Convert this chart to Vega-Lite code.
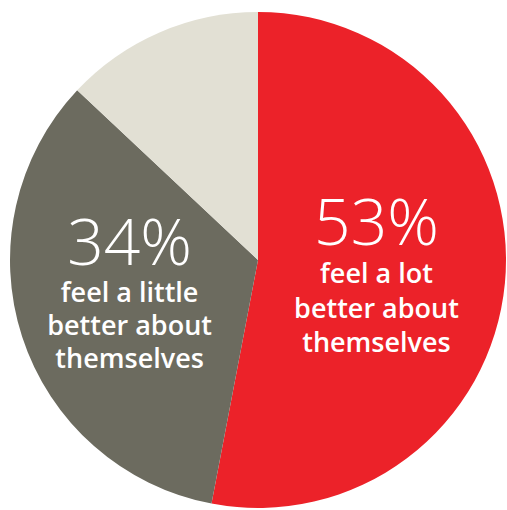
{
  "$schema": "https://vega.github.io/schema/vega-lite/v6.json",
  "width": 496,
  "height": 500,
  "autosize": {"type": "none"},
  "padding": {"left": 10, "top": 10, "right": 1, "bottom": 0},
  "background": "white",
  "config": {"view": {"stroke": null}},
  "data": {
    "values": [
      {"slice": "a lot", "value": 53, "pct": "53%", "desc": ["feel a lot", "better about", "themselves"]},
      {"slice": "a little", "value": 34, "pct": "34%", "desc": ["feel a little", "better about", "themselves"]},
      {"slice": "other", "value": 13, "pct": "", "desc": [""]}
    ]
  },
  "encoding": {
    "theta": {"field": "value", "type": "quantitative", "stack": true},
    "order": {"field": "value", "type": "quantitative", "sort": "descending"}
  },
  "layer": [
    {
      "mark": {"type": "arc", "outerRadius": 248, "stroke": null},
      "encoding": {
        "color": {
          "field": "slice",
          "type": "nominal",
          "scale": {"domain": ["a lot", "a little", "other"], "range": ["#EC2229", "#6C6B5F", "#E2E0D4"]},
          "legend": null
        }
      }
    },
    {
      "mark": {"type": "text", "radius": 119, "dy": -26, "fontSize": 64, "fontWeight": 300, "font": "Open Sans", "color": "white", "align": "center", "baseline": "alphabetic"},
      "encoding": {"text": {"condition": {"test": "datum.slice === 'a lot'", "field": "pct"}, "value": ""}}
    },
    {
      "mark": {"type": "text", "radius": 119, "dy": 12, "fontSize": 27, "fontWeight": 600, "font": "Open Sans", "color": "white", "align": "center", "baseline": "alphabetic", "lineHeight": 34.5},
      "encoding": {"text": {"condition": {"test": "datum.slice === 'a lot'", "field": "desc"}, "value": ""}}
    },
    {
      "mark": {"type": "text", "radius": 135, "dy": -37, "fontSize": 64, "fontWeight": 300, "font": "Open Sans", "color": "white", "align": "center", "baseline": "alphabetic"},
      "encoding": {"text": {"condition": {"test": "datum.slice === 'a little'", "field": "pct"}, "value": ""}}
    },
    {
      "mark": {"type": "text", "radius": 135, "dy": 0, "fontSize": 27, "fontWeight": 600, "font": "Open Sans", "color": "white", "align": "center", "baseline": "alphabetic", "lineHeight": 33},
      "encoding": {"text": {"condition": {"test": "datum.slice === 'a little'", "field": "desc"}, "value": ""}}
    }
  ]
}
